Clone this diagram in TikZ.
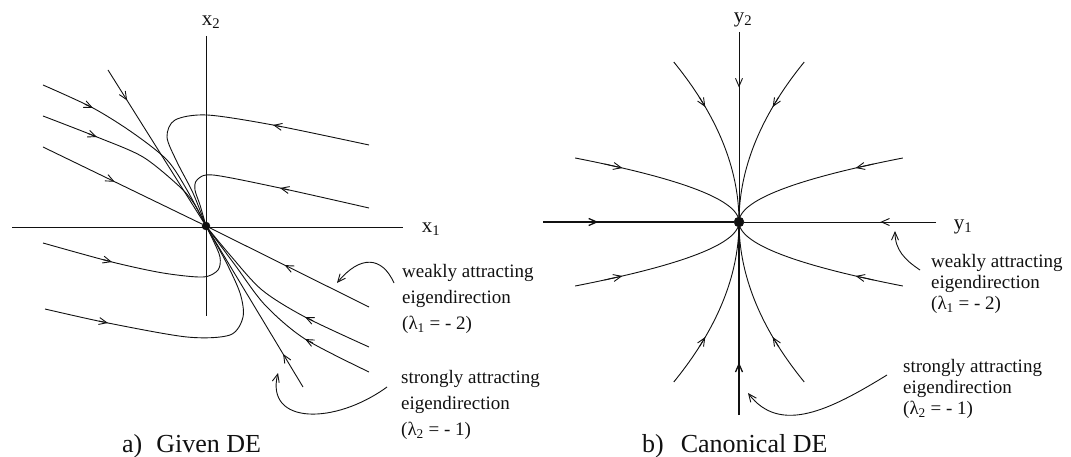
\documentclass[tikz,border=0pt]{standalone}
\usepackage{fontspec}
\setmainfont{Liberation Serif}
\usepackage{tikz}
\usetikzlibrary{arrows.meta,calc,decorations.markings}
\definecolor{PhaseInk}{HTML}{111111}
\tikzset{
  >={Straight Barb[length=8pt,width=7pt]},
  axisline/.style={draw=PhaseInk,line width=0.8pt},
  orbit/.style={draw=PhaseInk,line width=0.9pt},
  heavyorbit/.style={orbit,line width=1.3pt},
  flowat/.style={postaction={decorate},decoration={markings,
    mark=at position #1 with {\arrow{Straight Barb[length=8pt,width=7pt]}}}},
  flowtip/.style={orbit,->},
  pointer/.style={->,draw=PhaseInk,line width=0.9pt},
  fixpt/.style={circle,fill=PhaseInk,draw=PhaseInk,inner sep=0pt,minimum size=#1},
  axislabel/.style={font=\fontsize{21}{24}\selectfont,text=PhaseInk,inner sep=0pt},
  note/.style={font=\fontsize{19}{#1}\selectfont,text=PhaseInk,align=left,
    anchor=north west,inner sep=0pt},
  captiontext/.style={font=\fontsize{26}{30}\selectfont,text=PhaseInk,
    anchor=base west,inner sep=0pt}
}

\begin{document}
\begin{tikzpicture}[x=1pt,y=-1pt]
  \useasboundingbox (0,0) rectangle (1071,457);

  % a) given DE
  \node[fixpt=8pt] (O1) at (206,226) {};
  \draw[axisline] (12,227) -- (403,227);
  \draw[axisline] (206,36) -- (206,316);
  \node[axislabel] (x2lab) at (211,22) {x\textsubscript{2}};
  \node[axislabel] (x1lab) at (431,229) {x\textsubscript{1}};

  \draw[orbit,flowat=0.2] (108,70) -- (O1);
  \draw[orbit,flowat=0.21] (303,387) -- (O1);
  \draw[orbit,flowat=0.45] (43,147) -- (O1);
  \draw[orbit,flowat=0.53] (369,307) -- (O1);

  \draw[orbit] plot[smooth] coordinates {(43,85) (93,108) (133,133) (167,160) (187,190) (206,226)};
  \draw[orbit] plot[smooth] coordinates {(43,116) (97,137) (143,157) (180,187) (195,205) (206,226)};
  \draw[orbit] plot[smooth] coordinates {(369,145) (273,125) (207,115) (175,120) (167,137) (177,162) (193,193) (206,226)};
  \draw[orbit] plot[smooth] coordinates {(369,208) (280,188) (213,175) (197,180) (195,190) (200,205) (206,226)};
  \draw[orbit] plot[smooth] coordinates {(43,243) (112,262) (163,273) (203,277) (218,270) (220,257) (213,240) (206,226)};
  \draw[orbit] plot[smooth] coordinates {(45,309) (108,323) (187,337) (230,335) (243,317) (240,293) (225,260) (206,226)};
  \draw[orbit] plot[smooth] coordinates {(369,347) (305,317) (262,290) (230,255) (206,226)};
  \draw[orbit] plot[smooth] coordinates {(369,372) (305,339) (265,305) (235,265) (206,226)};
  \draw[flowtip] ($(93,108)!9pt!(43,85)$) -- (93,108);
  \draw[flowtip] ($(97,137)!9pt!(43,116)$) -- (97,137);
  \draw[flowtip] ($(273,125)!9pt!(369,145)$) -- (273,125);
  \draw[flowtip] ($(280,188)!9pt!(369,208)$) -- (280,188);
  \draw[flowtip] ($(112,262)!9pt!(43,243)$) -- (112,262);
  \draw[flowtip] ($(108,323)!9pt!(45,309)$) -- (108,323);
  \draw[flowtip] ($(305,317)!9pt!(369,347)$) -- (305,317);
  \draw[flowtip] ($(305,339)!9pt!(369,372)$) -- (305,339);

  \node[note=26] (weak1) at (402,264) {weakly attracting\\eigendirection\\(λ\textsubscript{1} = - 2)};
  \node[note=26] (strong1) at (401,370) {strongly attracting\\eigendirection\\(λ\textsubscript{2} = - 1)};
  \draw[pointer] (394,283) .. controls (382,256) and (360,255) .. (337,283);
  \draw[pointer] (387,387) .. controls (335,425) and (265,425) .. (278,373);

  \node[captiontext] (capA) at (122,452) {a)\hspace{14pt}Given DE};

  % b) canonical DE
  \node[fixpt=10pt] (O2) at (739,222) {};
  \node[axislabel] (y2lab) at (743,20) {y\textsubscript{2}};
  \node[axislabel] (y1lab) at (963,227) {y\textsubscript{1}};

  \draw[heavyorbit,flowat=0.29] (543,222) -- (O2);
  \draw[orbit,flowat=0.29] (936,222) -- (O2);
  \draw[orbit,flowat=0.3] (739,32) -- (O2);
  \draw[heavyorbit,flowat=0.28] (739,415) -- (O2);

  \foreach \sx/\sy in {-1/-1,1/-1,-1/1,1/1}{
    \draw[orbit] plot[domain=0:160,samples=41] ({739+\sx*0.00255*\x*\x}, {222+\sy*\x});
    \draw[orbit] plot[domain=0:64,samples=33] ({739+\sx*0.04*\x*\x}, {222+\sy*\x});
    \draw[flowtip] ({739+\sx*0.00255*125*125}, {222+\sy*125}) -- ({739+\sx*0.00255*115*115}, {222+\sy*115});
    \draw[flowtip] ({739+\sx*0.04*58*58}, {222+\sy*58}) -- ({739+\sx*0.04*54*54}, {222+\sy*54});
  }

  \node[note=21] (weak2) at (931,254) {weakly attracting\\eigendirection\\(λ\textsubscript{1} = - 2)};
  \node[note=21] (strong2) at (903,359) {strongly attracting\\eigendirection\\(λ\textsubscript{2} = - 1)};
  \draw[pointer] (920,270) .. controls (905,260) and (895,250) .. (895,231);
  \draw[pointer] (887,375) .. controls (830,410) and (780,435) .. (748,393);

  \node[captiontext] (capB) at (642,452) {b)\hspace{17pt}Canonical DE};
\end{tikzpicture}
\end{document}
